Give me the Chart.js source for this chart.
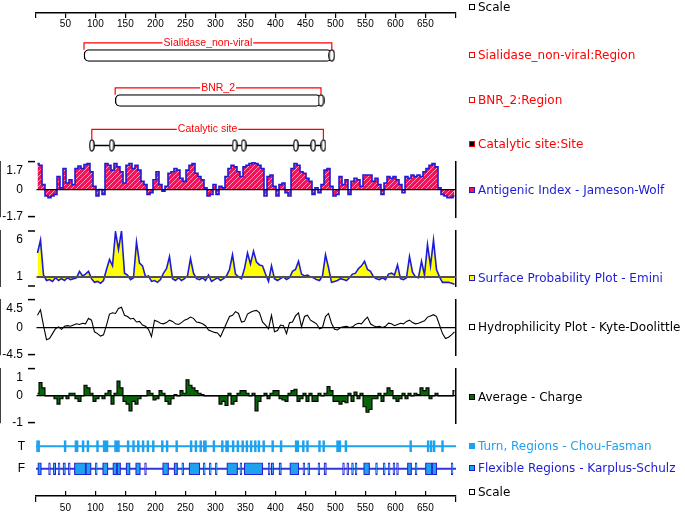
<!DOCTYPE html>
<html>
<head>
<meta charset="utf-8">
<title>Protein profile</title>
<script src="https://cdn.jsdelivr.net/npm/chart.js@4.4.1/dist/chart.umd.min.js"></script>
<style>
  html, body { margin: 0; padding: 0; background: #fff; }
  #wrap { position: relative; width: 685px; height: 514px; overflow: hidden; }
  #wrap canvas { position: absolute; left: 0; top: 0; }
  .key { position: absolute; left: 469px; font: 12px "DejaVu Sans", sans-serif; line-height: 14px; white-space: nowrap; }
  .key i { display: inline-block; width: 4px; height: 4px; border: 1px solid #000; margin-right: 3px; vertical-align: 1px; }
</style>
</head>
<body>
<div id="wrap"></div>
<script>
// -----------------------------------------------------------------
// data (profiles are read in 5-residue bins, residue 1..700)
const scaleTicks = [50, 100, 150, 200, 250, 300, 350, 400, 450, 500, 550, 600, 650];

const domainSialidase = [81, 494];
const domainBNR = [133, 476];
const catalyticSites = [94, 127, 332, 347, 434, 463, 480];

const antigenicIndex = [
  1.6, 1.5, 0.3, -0.4, -0.5, -0.4, -0.3, 0.8, 0.1, 1.3,
  0.4, 0.6, 0.3, 1.3, 1.45, 1.3, 1.55, 1.6, 1.1, 0.2,
  -0.4, 0.0, -0.3, 1.6, 1.5, 1.2, 1.6, 1.4, 1.1, 0.4,
  1.5, 1.6, 1.3, 1.5, 1.2, 0.5, 0.3, -0.3, -0.2, 0.6,
  1.1, 0.3, -0.1, 0.2, 1.0, 1.1, 1.3, 1.2, 0.7, 0.5,
  1.2, 1.5, 1.6, 1.0, 0.8, 0.6, 0.1, -0.4, -0.3, 0.3,
  -0.3, 0.2, 0.1, 0.8, 1.3, 1.5, 1.4, 1.1, 0.8, 1.4,
  1.5, 1.6, 1.7, 1.6, 1.5, 1.3, -0.4, 0.8, 0.9, 0.2,
  -0.4, 0.3, 0.4, -0.2, -0.4, 1.3, 1.6, 1.5, 1.1, 1.0,
  0.7, 0.5, -0.3, 0.1, -0.2, 0.3, 1.2, 1.3, 0.2, -0.4,
  -0.3, 0.8, 0.3, 0.6, -0.3, 0.5, 0.7, 0.6, 0.2, 0.9,
  0.9, 0.9, 0.5, 0.7, 0.3, -0.3, 0.4, 0.8, 0.7, 0.8,
  0.6, 0.3, -0.2, 0.8, 0.7, 0.9, 0.8, 0.9, 0.8, 1.1,
  1.3, 1.5, 1.6, 1.4, 0.1, -0.3, -0.4, -0.5, -0.5, -0.4
];

const surfaceProb = [
  3.6, 5.0, 1.2, 0.6, 0.7, 0.5, 0.9, 0.6, 0.8, 0.6,
  0.9, 0.7, 0.8, 0.9, 1.6, 1.1, 1.3, 1.6, 0.8, 0.4,
  0.5, 0.3, 0.6, 1.8, 2.9, 2.2, 5.9, 4.0, 6.0, 1.4,
  1.2, 0.7, 0.9, 4.8, 2.5, 2.2, 1.0, 1.1, 0.5, 0.6,
  0.4, 0.7, 1.4, 1.9, 3.2, 0.8, 0.6, 0.9, 0.6, 0.8,
  1.1, 3.0, 1.4, 0.8, 0.7, 0.9, 0.6, 1.2, 0.5, 0.7,
  0.9, 0.6, 0.8, 1.1, 1.8, 3.4, 1.3, 1.0, 0.8, 1.9,
  3.6, 2.4, 3.8, 2.6, 2.3, 2.2, 1.3, 0.5, 2.2, 0.8,
  0.6, 0.8, 1.0, 0.7, 0.9, 1.6, 1.8, 2.7, 1.3, 1.1,
  1.2, 1.0, 0.9, 0.7, 0.6, 1.1, 3.4, 2.0, 0.4, 0.5,
  0.6, 0.8, 0.7, 0.6, 0.9, 1.3, 1.4, 1.9, 2.2, 2.7,
  1.8, 1.6, 1.0, 0.8, 0.7, 0.9, 0.7, 1.3, 1.4, 1.2,
  2.3, 0.8, 0.7, 0.9, 3.2, 1.5, 1.0, 0.9, 2.7, 1.2,
  4.5, 2.2, 5.0, 1.8, 1.0, 0.4, 0.4, 0.4, 0.3, 0.2
];

const hydrophilicity = [
  2.0, 2.9, 0.3, -2.0, -1.8, -1.0, -0.2, 0.1, -0.3, 0.2,
  0.3, 0.2, 0.4, 0.6, 0.5, 0.7, 0.6, 1.5, 1.2, -0.7,
  -1.0, -1.4, -1.2, 0.4, 2.2, 2.4, 2.3, 3.1, 3.3, 2.0,
  1.8, 1.4, 1.5, 0.9, 1.0, 0.4, 0.2, -0.3, -1.5, 1.2,
  1.0, 0.7, 0.6, 0.8, 1.2, 1.0, 0.6, 0.5, 0.8, 1.2,
  1.4, 1.7, 1.5, 0.9, 0.8, 0.6, 0.3, -0.4, -0.6, -0.8,
  -0.9, -1.5, -0.4, 0.7, 1.8, 2.0, 2.6, 2.3, 0.9, 1.0,
  2.2, 2.5, 2.7, 2.8, 2.4, 0.9, 0.4, -0.2, 2.0, -0.7,
  -0.5, 0.4, 0.3, -1.0, 0.8, 0.9, 1.9, 2.4, 0.1, 1.8,
  2.0, 1.2, 0.9, 0.6, -0.2, 0.0, 1.8, 2.3, 0.7, -0.3,
  -0.4, 0.0, 0.1, 0.2, 0.0, 0.1, 0.5, 0.7, 0.6, 1.2,
  1.7, 0.6, 0.3, 0.1, 0.2, 0.0, 0.2, 0.7, 0.6, 0.3,
  0.5, 0.7, 0.6, 1.0, 1.2, 0.8, 0.6, 0.7, 0.9, 1.1,
  1.7, 1.9, 2.1, 1.8, 0.4, -1.0, -1.8, -1.6, -1.2, -0.7
];

const avgCharge = [
  0.1, 0.5, 0.3, 0.0, 0.0, 0.0, -0.1, -0.3, -0.1, 0.0,
  -0.1, 0.1, 0.1, -0.1, -0.2, 0.0, 0.4, 0.3, 0.1, -0.2,
  -0.1, 0.0, -0.1, 0.1, 0.2, -0.3, 0.1, 0.55, 0.3, -0.2,
  -0.3, -0.55, -0.2, -0.3, -0.1, 0.0, 0.0, 0.2, 0.1, -0.15,
  -0.1, 0.2, 0.1, -0.2, -0.3, -0.1, 0.05, 0.0, 0.2, 0.1,
  0.6, 0.4, 0.3, 0.2, 0.1, 0.05, 0.0, 0.0, 0.0, 0.0,
  0.0, -0.3, -0.2, -0.35, 0.1, -0.3, -0.2, 0.1, 0.2, 0.2,
  0.1, 0.0, 0.1, -0.55, -0.2, 0.0, 0.1, -0.1, 0.1, 0.2,
  0.2, -0.1, -0.15, -0.2, 0.1, 0.2, 0.25, -0.2, -0.1, 0.1,
  -0.2, 0.1, -0.2, -0.2, 0.1, 0.0, 0.1, 0.35, 0.2, -0.2,
  -0.2, -0.3, -0.2, -0.25, 0.1, -0.2, 0.15, -0.1, 0.1, -0.4,
  -0.6, -0.5, -0.1, -0.1, 0.1, -0.2, 0.1, 0.3, 0.2, -0.1,
  -0.2, -0.1, 0.1, -0.1, 0.1, 0.0, 0.1, 0.05, 0.3, 0.2,
  0.3, -0.1, 0.0, 0.1, 0.0, 0.0, 0.0, 0.0, 0.0, 0.2
];

const turnRegions = [
  [2, 7], [48, 51], [66, 71], [78, 81], [86, 89], [102, 105], [113, 121], [132, 140],
  [153, 156], [162, 165], [170, 173], [178, 181], [186, 189], [195, 198], [210, 213],
  [218, 221], [234, 237], [258, 261], [266, 269], [274, 277], [280, 285], [296, 299],
  [310, 313], [317, 322], [328, 331], [336, 339], [344, 347], [351, 354], [358, 361],
  [365, 368], [371, 374], [379, 382], [394, 397], [408, 411], [433, 439], [445, 448],
  [452, 455], [472, 475], [479, 482], [502, 509], [516, 519], [624, 627], [653, 656],
  [658, 661], [663, 666], [677, 680]
];

const flexRegions = [
  [4, 10], [22, 25], [30, 34], [38, 41], [46, 50], [55, 58], [65, 84], [84, 93],
  [100, 103], [112, 121], [129, 136], [136, 142], [151, 158], [167, 175], [182, 185],
  [212, 222], [231, 237], [244, 247], [256, 274], [280, 283], [290, 293], [300, 303],
  [319, 337], [341, 344], [348, 379], [388, 391], [393, 397], [406, 410], [424, 439],
  [446, 449], [454, 457], [471, 474], [481, 485], [512, 515], [519, 522], [527, 530],
  [533, 536], [547, 557], [567, 570], [580, 583], [588, 591], [596, 599], [602, 605],
  [620, 627], [633, 636], [650, 661], [661, 669], [693, 696]
];

// -----------------------------------------------------------------
// layout
const W = 685, H = 514;
const AREA_LEFT = 36, AREA_RIGHT = 456;
const X_MIN = 1, X_MAX = 701, BIN = 5;
const SANS = '"Liberation Sans", Arial, sans-serif';
const BLUE = '#1c1cd8', SKY = '#1ea2f0', RED = '#ff0000';

Chart.defaults.font.family = SANS;
Chart.defaults.color = '#000';

const legendKeys = [
  { text: 'Scale', color: '#000', fill: '#fff', edge: '#000', y: 7 },
  { text: 'Sialidase_non-viral:Region', color: RED, fill: '#fff', edge: RED, y: 55 },
  { text: 'BNR_2:Region', color: RED, fill: '#fff', edge: RED, y: 100 },
  { text: 'Catalytic site:Site', color: RED, fill: '#000', edge: RED, y: 144 },
  { text: 'Antigenic Index - Jameson-Wolf', color: BLUE, fill: '#f0145a', edge: BLUE, y: 190 },
  { text: 'Surface Probability Plot - Emini', color: BLUE, fill: '#ffff00', edge: BLUE, y: 278 },
  { text: 'Hydrophilicity Plot - Kyte-Doolittle', color: '#000', fill: '#fff', edge: '#000', y: 327 },
  { text: 'Average - Charge', color: '#000', fill: '#0a640a', edge: '#000', y: 397 },
  { text: 'Turn, Regions - Chou-Fasman', color: SKY, fill: SKY, edge: SKY, y: 446 },
  { text: 'Flexible Regions - Karplus-Schulz', color: BLUE, fill: SKY, edge: BLUE, y: 468 },
  { text: 'Scale', color: '#000', fill: '#fff', edge: '#000', y: 492 }
];

const wrap = document.getElementById('wrap');

function addCanvas() {
  const c = document.createElement('canvas');
  c.width = W; c.height = H;
  wrap.appendChild(c);
  return c.getContext('2d');
}

function binCenter(i) {
  return X_MIN + BIN * i + BIN / 2;
}

function baseOptions(top, bottom, left) {
  return {
    responsive: false,
    animation: false,
    events: [],
    layout: { padding: { top: top, bottom: H - bottom, left: left, right: W - AREA_RIGHT } },
    plugins: { legend: { display: false }, tooltip: { enabled: false } }
  };
}

function ellipseStyle(w, h) {
  const c = document.createElement('canvas');
  c.width = w; c.height = h;
  const g = c.getContext('2d');
  g.beginPath();
  g.ellipse(w / 2, h / 2, w / 2 - 0.8, h / 2 - 0.8, 0, 0, Math.PI * 2);
  g.fillStyle = '#fff';
  g.fill();
  g.lineWidth = 1.3;
  g.strokeStyle = '#000';
  g.stroke();
  return c;
}

function hatch() {
  const c = document.createElement('canvas');
  c.width = 5; c.height = 5;
  const g = c.getContext('2d');
  g.fillStyle = '#f0145a';
  g.fillRect(0, 0, 5, 5);
  g.strokeStyle = '#ff9cbc';
  g.lineWidth = 1;
  g.beginPath();
  g.moveTo(-1, 6); g.lineTo(6, -1);
  g.stroke();
  return g.createPattern(c, 'repeat');
}

// -----------------------------------------------------------------
// scale rulers (labels need a real axis box, they are clipped to it)
const AXIS_BOX = 18;

function scaleChart(lineY, up) {
  const ends = [X_MIN, X_MAX];
  const opts = baseOptions(lineY - 5, lineY + AXIS_BOX, AREA_LEFT);
  opts.scales = {
    x: {
      type: 'linear', min: X_MIN, max: X_MAX, position: 'bottom',
      afterFit: s => { s.height = AXIS_BOX; },
      afterBuildTicks: s => { s.ticks = [X_MIN, ...scaleTicks, X_MAX].map(v => ({ value: v })); },
      ticks: {
        autoSkip: false, maxRotation: 0, padding: 0,
        font: { size: 10 },
        callback: v => (ends.includes(v) ? '' : String(v))
      },
      grid: {
        drawOnChartArea: up,
        tickLength: up ? 6 : 5,
        lineWidth: 1.2,
        tickWidth: 1.2,
        color: c => (c.tick && !ends.includes(c.tick.value) ? '#000' : 'rgba(0,0,0,0)'),
        tickColor: c => (!up || (c.tick && ends.includes(c.tick.value)) ? '#000' : 'rgba(0,0,0,0)')
      },
      border: { color: '#000', width: 1.5 }
    },
    y: { display: false, min: 0, max: 1 }
  };
  new Chart(addCanvas(), { type: 'line', data: { datasets: [] }, options: opts });
}

scaleChart(13, false);
scaleChart(496, true);

// -----------------------------------------------------------------
// domains and sites
const bracketLabels = {
  id: 'bracketLabels',
  afterDatasetsDraw(chart) {
    const ctx = chart.ctx, xs = chart.scales.x, ys = chart.scales.y;
    ctx.save();
    ctx.font = '10.5px ' + SANS;
    ctx.textAlign = 'center';
    ctx.textBaseline = 'middle';
    chart.data.datasets.forEach(ds => {
      if (!ds.bracket) return;
      const px = (xs.getPixelForValue(ds.bracket[0]) + xs.getPixelForValue(ds.bracket[1])) / 2;
      const py = ys.getPixelForValue(ds.data[1].y);
      const w = ctx.measureText(ds.label).width + 2;
      ctx.fillStyle = '#fff';
      ctx.fillRect(px - w / 2, py - 5, w, 10);
      ctx.fillStyle = RED;
      ctx.fillText(ds.label, px, py);
    });
    ctx.restore();
  }
};

function bracket(label, range, row, rise) {
  return {
    type: 'line', label: label, bracket: range,
    data: [
      { x: range[0], y: row - 0.13 }, { x: range[0], y: row - rise },
      { x: range[1], y: row - rise }, { x: range[1], y: row - 0.13 }
    ],
    borderColor: RED, borderWidth: 1.2, pointRadius: 0, fill: false
  };
}

const capStyle = ellipseStyle(7, 13);
const siteStyle = ellipseStyle(6, 13);

const featOpts = baseOptions(33, 168, AREA_LEFT);
featOpts.plugins.bracketLabels = {};
featOpts.scales = {
  x: { type: 'linear', display: false, min: X_MIN, max: X_MAX, offset: false },
  y: { type: 'linear', display: false, min: 0, max: 3, reverse: true, offset: false }
};

new Chart(addCanvas(), {
  type: 'line',
  data: {
    datasets: [
      bracket('Sialidase_non-viral', domainSialidase, 0.5, 0.28),
      bracket('BNR_2', domainBNR, 1.5, 0.28),
      bracket('Catalytic site', [catalyticSites[0], catalyticSites[catalyticSites.length - 1]], 2.5, 0.36),
      {
        type: 'line',
        data: [{ x: domainSialidase[1], y: 0.5 }, { x: domainBNR[1], y: 1.5 }],
        showLine: false, pointStyle: capStyle, pointRadius: 4, order: -1
      },
      {
        type: 'bar', indexAxis: 'y',
        data: [{ x: domainSialidase, y: 0.5 }, { x: domainBNR, y: 1.5 }],
        backgroundColor: '#fff', borderColor: '#000', borderWidth: 1.4,
        borderSkipped: false, borderRadius: 5, barThickness: 12, grouped: false
      },
      {
        type: 'line',
        data: catalyticSites.map(v => ({ x: v, y: 2.5 })),
        borderColor: '#000', borderWidth: 1.3, pointStyle: siteStyle, pointRadius: 4, fill: false
      }
    ]
  },
  options: featOpts,
  plugins: [bracketLabels]
});

// -----------------------------------------------------------------
// profile plots
function profileChart(cfg) {
  const tickVals = [cfg.min, cfg.base, cfg.max];
  const opts = baseOptions(cfg.top, cfg.bottom, 0);
  opts.scales = {
    x: { type: 'linear', display: false, min: X_MIN, max: X_MAX },
    y: {
      type: 'linear', position: 'left', min: cfg.min, max: cfg.max,
      afterFit: s => { s.width = AREA_LEFT; },
      afterBuildTicks: s => { s.ticks = tickVals.map(v => ({ value: v })); },
      ticks: {
        autoSkip: false, padding: 5,
        font: { size: 12, lineHeight: '18px' },
        callback: v => (v === cfg.max ? ['', cfg.labels[2]] : v === cfg.base ? cfg.labels[1] : cfg.labels[0])
      },
      grid: {
        z: 1,
        tickLength: 8,
        tickWidth: 1.5,
        lineWidth: cfg.baseWidth,
        color: c => (c.tick && c.tick.value === cfg.base ? cfg.baseColor : 'rgba(0,0,0,0)'),
        tickColor: c => (c.tick && c.tick.value !== cfg.base ? '#000' : 'rgba(0,0,0,0)')
      },
      border: { color: '#000', width: 1.5 }
    },
    y2: {
      type: 'linear', position: 'right', min: cfg.min, max: cfg.max,
      afterFit: s => { s.width = 0; },
      ticks: { display: false },
      grid: { display: false },
      border: { display: true, color: '#000', width: 1.5 }
    }
  };
  new Chart(addCanvas(), {
    type: 'line',
    data: {
      datasets: [{
        data: cfg.values.map((v, i) => ({ x: binCenter(i), y: v })),
        stepped: cfg.stepped,
        borderColor: cfg.line,
        borderWidth: cfg.lineWidth,
        pointRadius: 0,
        fill: cfg.fill ? { value: cfg.base } : false,
        backgroundColor: cfg.fill || 'rgba(0,0,0,0)'
      }]
    },
    options: opts
  });
}

profileChart({ values: antigenicIndex, min: -1.7, max: 1.7, base: 0, top: 162, bottom: 217, stepped: 'middle',
  labels: ['-1.7', '0', '1.7'], line: BLUE, lineWidth: 1.6, fill: hatch(), baseColor: '#000', baseWidth: 1.2 });
profileChart({ values: surfaceProb, min: 0, max: 6, base: 1, top: 231, bottom: 286, stepped: false,
  labels: ['', '1', '6'], line: BLUE, lineWidth: 1.6, fill: '#ffff00', baseColor: '#505050', baseWidth: 2 });
profileChart({ values: hydrophilicity, min: -4.5, max: 4.5, base: 0, top: 300, bottom: 355, stepped: false,
  labels: ['-4.5', '0', '4.5'], line: '#000', lineWidth: 1.1, fill: null, baseColor: '#000', baseWidth: 1.2 });
profileChart({ values: avgCharge, min: -1, max: 1, base: 0, top: 369, bottom: 423, stepped: 'middle',
  labels: ['-1', '0', '1'], line: '#000', lineWidth: 1.1, fill: '#0a640a', baseColor: '#000', baseWidth: 1.2 });

// -----------------------------------------------------------------
// turn / flexible regions
const regOpts = baseOptions(435, 480, 0);
regOpts.indexAxis = 'y';
regOpts.datasets = { bar: { grouped: false } };
regOpts.scales = {
  x: { type: 'linear', display: false, min: X_MIN, max: X_MAX },
  y: {
    type: 'category', labels: ['T', 'F'],
    afterFit: s => { s.width = AREA_LEFT; },
    ticks: { padding: 11, font: { size: 12 } },
    grid: { display: false, drawTicks: false },
    border: { display: false }
  }
};

new Chart(addCanvas(), {
  type: 'bar',
  data: {
    datasets: [
      { data: [{ x: [X_MIN, X_MAX], y: 'T' }], backgroundColor: SKY, barThickness: 1.5, order: 5 },
      { data: [{ x: [X_MIN, X_MAX], y: 'F' }], backgroundColor: '#3434d8', barThickness: 1.5, order: 5 },
      { data: turnRegions.map(r => ({ x: r, y: 'T' })), backgroundColor: SKY, barThickness: 11, order: 1 },
      { data: flexRegions.map(r => ({ x: r, y: 'F' })), backgroundColor: SKY, borderColor: '#2424d4',
        borderWidth: 1.2, borderSkipped: false, barThickness: 12, order: 1 }
    ]
  },
  options: regOpts
});

// -----------------------------------------------------------------
// legend keys
legendKeys.forEach(k => {
  const d = document.createElement('div');
  d.className = 'key';
  d.style.top = (k.y - 7) + 'px';
  d.style.color = k.color;
  const m = document.createElement('i');
  m.style.background = k.fill;
  m.style.borderColor = k.edge;
  d.appendChild(m);
  d.appendChild(document.createTextNode(k.text));
  wrap.appendChild(d);
});
</script>
</body>
</html>
